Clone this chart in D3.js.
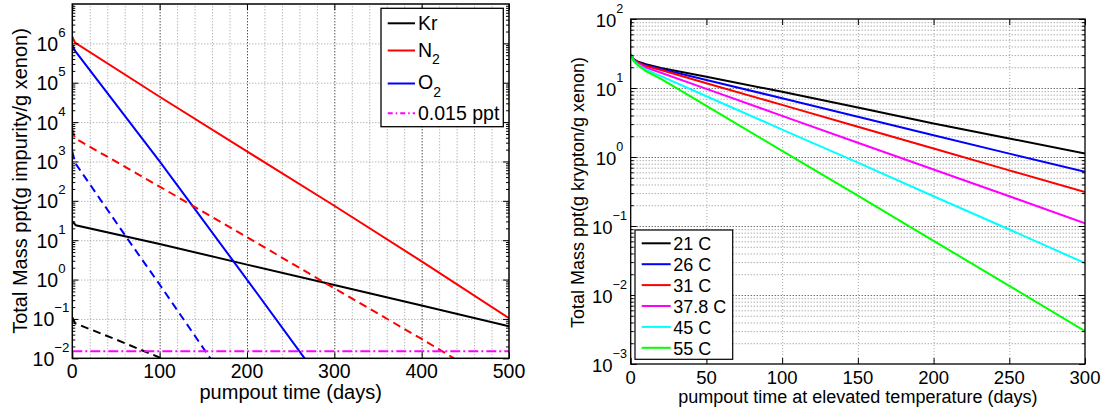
<!DOCTYPE html>
<html><head><meta charset="utf-8">
<script src="https://cdn.jsdelivr.net/npm/d3@7"></script>
<style>
body{margin:0;background:#fff;}
svg{display:block;font-family:"Liberation Sans",Arial,Helvetica,sans-serif;}
</style></head><body>
<svg id="chart" width="1102" height="410"></svg>
<script>
// ---------------- Left panel data ----------------
const leftXTicks = [0, 100, 200, 300, 400, 500];
const leftXMinor = [20, 40, 60, 80, 120, 140, 160, 180, 220, 240, 260, 280, 320, 340, 360, 380, 420, 440, 460, 480];
const leftYTickExps = [-2, -1, 0, 1, 2, 3, 4, 5, 6];
const krSolidDays = [0, 4, 100, 200, 300, 400, 500];
const krSolid = [30, 24, 8, 2.4, 0.73, 0.22, 0.065];
const n2SolidDays = [0, 3, 100, 200, 300, 400, 500];
const n2Solid = [1.47e6, 1.05e6, 4.4e4, 1.8e3, 75, 2.9, 0.105];
const o2SolidDays = [0, 3, 100, 200, 266];
const o2Solid = [9e5, 6.5e5, 1000, 1.0, 0.01];
const krDashDays = [0, 3, 50, 102];
const krDash = [0.11, 0.078, 0.03, 0.01];
const n2DashDays = [0, 3, 100, 200, 300, 400, 437];
const n2Dash = [6.5e3, 3.9e3, 230, 12, 0.6, 0.031, 0.01];
const o2DashDays = [0, 3.5, 63, 100, 158];
const o2Dash = [1.8e3, 900, 11, 0.75, 0.01];
const limitDays = [0, 500];
const limitPpt = [0.015, 0.015];
const leftLegendNames = ["Kr", "N", "O", "0.015 ppt"];
const leftLegendSubs = ["", "2", "2", ""];

// ---------------- Right panel data ----------------
const rightXTicks = [0, 50, 100, 150, 200, 250, 300];
const rightYTickExps = [-3, -2, -1, 0, 1, 2];
const tempDays = [0, 2, 5, 10, 20, 50, 100, 150, 200, 250, 300];
const tempLabels = ["21 C", "26 C", "31 C", "37.8 C", "45 C", "55 C"];
const temp21 = [30.8, 26, 24, 22.2, 19.5, 14.6, 8.8, 5.2, 3.05, 1.86, 1.12];
const temp26 = [30.8, 25.8, 23.6, 21.3, 18.8, 13.1, 7.1, 3.84, 2.07, 1.12, 0.61];
const temp31 = [30.8, 25.6, 23.2, 20.8, 18.2, 11.7, 5.7, 2.75, 1.33, 0.64, 0.31];
const temp378 = [30.8, 25.2, 22.5, 19.7, 16.6, 9.7, 3.95, 1.61, 0.66, 0.27, 0.109];
const temp45 = [30.8, 24.8, 21.6, 18.4, 14.9, 7.6, 2.5, 0.83, 0.27, 0.089, 0.029];
const temp55 = [30.8, 24.5, 21.2, 17.6, 13.6, 5.5, 1.23, 0.275, 0.061, 0.0136, 0.0030];

const svg = d3.select("#chart");
svg.append("rect").attr("width", 1102).attr("height", 410).attr("fill", "#fff");
const defs = svg.append("defs");

function minorLogValues(lo, hi) {
  const out = [];
  for (let e = lo; e < hi; e++) for (let k = 2; k <= 9; k++) out.push(k * Math.pow(10, e));
  return out;
}

function panel(cfg) {
  const x = cfg.x, y = cfg.y, fs = cfg.fs;
  const [x0, x1] = x.range();
  const [y0, y1] = y.range();
  const g = svg.append("g");
  const clipId = cfg.id + "-clip";
  defs.append("clipPath").attr("id", clipId).append("rect")
    .attr("x", x0).attr("y", y1).attr("width", x1 - x0).attr("height", y0 - y1);

  function grid(axis, tr, color, dash) {
    const gg = g.append("g").attr("transform", tr).call(axis);
    gg.select(".domain").remove();
    gg.selectAll("text").remove();
    gg.selectAll("line").attr("stroke", color).attr("stroke-width", 1).attr("stroke-dasharray", dash);
  }
  cfg.vGrids.forEach(vg => grid(d3.axisBottom(x).tickValues(vg.values).tickSize(-(y0 - y1)).tickFormat(""),
      `translate(0,${y0})`, vg.color, vg.dash));
  cfg.hGrids.forEach(hg => grid(d3.axisLeft(y).tickValues(hg.values).tickSize(-(x1 - x0)).tickFormat(""),
      `translate(${x0},0)`, hg.color, hg.dash));

  const line = d3.line().x(d => x(d[0])).y(d => y(d[1]));
  const sg = g.append("g").attr("clip-path", `url(#${clipId})`);
  cfg.series.forEach(s => {
    sg.append("path").datum(d3.zip(s.days, s.values))
      .attr("d", line).attr("fill", "none").attr("stroke", s.color)
      .attr("stroke-width", 2).attr("stroke-dasharray", s.dash || null);
  });

  function ticks(axis, tr) {
    const tg = g.append("g").attr("transform", tr).call(axis);
    tg.select(".domain").remove();
    tg.selectAll("text").remove();
    tg.selectAll("line").attr("stroke", "#000").attr("stroke-width", 1);
  }
  const majY = cfg.yExps.map(e => Math.pow(10, e));
  const minY = minorLogValues(cfg.yMinorRange[0], cfg.yMinorRange[1]);
  ticks(d3.axisLeft(y).tickValues(majY).tickSize(-6).tickFormat(""), `translate(${x0},0)`);
  ticks(d3.axisRight(y).tickValues(majY).tickSize(-6).tickFormat(""), `translate(${x1},0)`);
  ticks(d3.axisLeft(y).tickValues(minY).tickSize(-3).tickFormat(""), `translate(${x0},0)`);
  ticks(d3.axisRight(y).tickValues(minY).tickSize(-3).tickFormat(""), `translate(${x1},0)`);
  ticks(d3.axisBottom(x).tickValues(cfg.xTicks).tickSize(-6).tickFormat(""), `translate(0,${y0})`);
  ticks(d3.axisTop(x).tickValues(cfg.xTicks).tickSize(-6).tickFormat(""), `translate(0,${y1})`);

  g.append("rect").attr("x", x0).attr("y", y1).attr("width", x1 - x0).attr("height", y0 - y1)
    .attr("fill", "none").attr("stroke", "#000").attr("stroke-width", cfg.boxW);

  g.append("g").selectAll("text").data(cfg.xTicks).join("text")
    .attr("x", d => x(d)).attr("y", y0 + cfg.xLabelDy)
    .attr("text-anchor", "middle").attr("font-size", fs).text(d => d);
  g.append("g").selectAll("text").data(cfg.yExps).join("text")
    .attr("x", x0 - cfg.yLabelCenter).attr("y", d => y(Math.pow(10, d)) + cfg.yLabelDy)
    .attr("text-anchor", "middle").attr("font-size", fs)
    .each(function (d) {
      const t = d3.select(this);
      t.append("tspan").text("10");
      t.append("tspan").attr("dy", -0.72 * fs).attr("font-size", fs * 0.68)
        .text(d < 0 ? "\u2212" + Math.abs(d) : String(d));
    });
  g.append("text").attr("x", (x0 + x1) / 2).attr("y", cfg.xTitleY).attr("text-anchor", "middle")
    .attr("font-size", cfg.titleFs).text(cfg.xTitle);
  g.append("text").attr("transform", `translate(${cfg.yTitleX},${cfg.yTitleY}) rotate(-90)`)
    .attr("text-anchor", "middle").attr("font-size", cfg.titleFs).text(cfg.yTitle);
  return g;
}

// ---------------- Left panel ----------------
const xL = d3.scaleLinear().domain([0, 500]).range([72.3, 509]);
const yL = d3.scaleLog().domain([1e-2, 1e7]).range([358.3, 4]);
const leftSeries = [
  { days: krSolidDays, values: krSolid, color: "#000000" },
  { days: n2SolidDays, values: n2Solid, color: "#ff0000" },
  { days: o2SolidDays, values: o2Solid, color: "#0000ff" },
  { days: krDashDays, values: krDash, color: "#000000", dash: "8,5" },
  { days: n2DashDays, values: n2Dash, color: "#ff0000", dash: "8,5" },
  { days: o2DashDays, values: o2Dash, color: "#0000ff", dash: "8,5" },
  { days: limitDays, values: limitPpt, color: "#ff00ff", dash: "10,3,2,3" }
];
const gl = panel({
  id: "left", x: xL, y: yL, fs: 19.5, titleFs: 20, boxW: 1.5,
  xTicks: leftXTicks, yExps: leftYTickExps, yMinorRange: [-2, 7],
  vGrids: [
    { values: leftXMinor, color: "#9a9a9a", dash: "1,2" },
    { values: leftXTicks.slice(1, -1), color: "#000", dash: "1,2" }
  ],
  hGrids: [{ values: leftYTickExps.slice(1).map(e => Math.pow(10, e)), color: "#9a9a9a", dash: "1,2" }],
  series: leftSeries,
  xLabelDy: 19.7, yLabelCenter: 21.3, yLabelDy: 7.5,
  xTitle: "pumpout time (days)", xTitleY: 399,
  yTitle: "Total Mass ppt(g impurity/g xenon)", yTitleX: 27, yTitleY: 181
});
{
  const lg = gl.append("g");
  lg.append("rect").attr("x", 381).attr("y", 8.3).attr("width", 122.3).attr("height", 118.4)
    .attr("fill", "#fff").attr("stroke", "#000").attr("stroke-width", 1.3);
  const lineY = [23.3, 50.5, 83.5, 113.3];
  const textY = [30.3, 56.5, 88.5, 120];
  const subDy = [0, 7, 8, 0];
  const legendSeries = [leftSeries[0], leftSeries[1], leftSeries[2], leftSeries[6]];
  leftLegendNames.forEach((name, i) => {
    const s = legendSeries[i];
    lg.append("line").attr("x1", 387.7).attr("x2", 415).attr("y1", lineY[i]).attr("y2", lineY[i])
      .attr("stroke", s.color).attr("stroke-width", 2)
      .attr("stroke-dasharray", i === 3 ? "5,3,1.5,3" : null);
    const t = lg.append("text").attr("x", 418).attr("y", textY[i]).attr("font-size", 19.5);
    t.append("tspan").text(name);
    if (leftLegendSubs[i]) t.append("tspan").attr("dy", subDy[i]).attr("font-size", 14).text(leftLegendSubs[i]);
  });
}

// ---------------- Right panel ----------------
const xR = d3.scaleLinear().domain([0, 300]).range([630.7, 1085]);
const yR = d3.scaleLog().domain([1e-3, 1e2]).range([364, 19]);
const tempColors = ["#000000", "#0000ff", "#ff0000", "#ff00ff", "#00ffff", "#00ff00"];
const tempValues = [temp21, temp26, temp31, temp378, temp45, temp55];
const rightSeries = tempValues.map((v, i) => ({ days: tempDays, values: v, color: tempColors[i] }));
const gr = panel({
  id: "right", x: xR, y: yR, fs: 18.5, titleFs: 18, boxW: 1.3,
  xTicks: rightXTicks, yExps: rightYTickExps, yMinorRange: [-3, 2],
  vGrids: [{ values: rightXTicks.slice(1, -1), color: "#a8a8a8", dash: "1,2" }],
  hGrids: [
    { values: minorLogValues(-3, 2), color: "#8a8a8a", dash: "1,2" },
    { values: rightYTickExps.slice(1, -1).map(e => Math.pow(10, e)), color: "#333", dash: "1,2" }
  ],
  series: rightSeries,
  xLabelDy: 19.5, yLabelCenter: 21.2, yLabelDy: 7.5,
  xTitle: "pumpout time at elevated temperature (days)", xTitleY: 403,
  yTitle: "Total Mass ppt(g krypton/g xenon)", yTitleX: 584, yTitleY: 192.5
});
{
  const lg = gr.append("g");
  lg.append("rect").attr("x", 635).attr("y", 230).attr("width", 97.7).attr("height", 129.3)
    .attr("fill", "#fff").attr("stroke", "#000").attr("stroke-width", 1.2);
  tempLabels.forEach((lab, i) => {
    const ly = 243.3 + i * 20.9;
    lg.append("line").attr("x1", 641.7).attr("x2", 670.7).attr("y1", ly).attr("y2", ly)
      .attr("stroke", tempColors[i]).attr("stroke-width", 2);
    lg.append("text").attr("x", 673.3).attr("y", ly + 7).attr("font-size", 18).text(lab);
  });
}
</script>
</body></html>
